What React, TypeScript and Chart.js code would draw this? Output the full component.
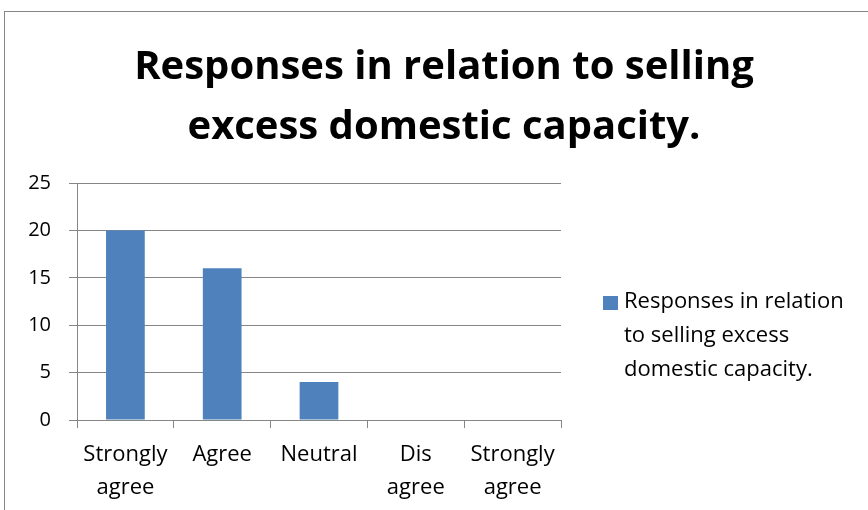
import React, { useEffect, useRef } from "react";
import { Chart, registerables } from "chart.js";

Chart.register(...registerables);

const categories: string[][] = [
  ["Strongly", "agree"],
  ["Agree"],
  ["Neutral"],
  ["Dis", "agree"],
  ["Strongly", "agree"],
];
const values: number[] = [20, 16, 4, 0, 0];
const seriesLabel = "Responses in relation to selling excess domestic capacity.";
const titleLines: string[] = ["Responses in relation to selling", "excess domestic capacity."];
const legendLines: string[] = ["Responses in relation", "to selling excess", "domestic capacity."];
const yTicks: number[] = [0, 5, 10, 15, 20, 25];

const FONT = "'Open Sans', sans-serif";
const BAR = "#4F81BD";
const GRID = "#868686";

export default function App() {
  const ref = useRef<HTMLCanvasElement | null>(null);

  useEffect(() => {
    if (!ref.current) return;
    const framePlugin = {
      id: "frame",
      beforeDraw(chart: any) {
        const ctx = chart.ctx;
        ctx.save();
        ctx.fillStyle = "#ffffff";
        ctx.fillRect(0, 0, chart.width, chart.height);
        ctx.strokeStyle = GRID;
        ctx.lineWidth = 1;
        ctx.strokeRect(4.5, 11.5, 3000, 3000);
        ctx.restore();
      },
    };
    const legendPlugin = {
      id: "customLegend",
      afterDraw(chart: any) {
        const ctx = chart.ctx;
        const ds = chart.data.datasets[0];
        ctx.save();
        ctx.fillStyle = ds.backgroundColor;
        ctx.fillRect(603, 296, 15, 14);
        ctx.fillStyle = "#000000";
        ctx.font = `22px ${FONT}`;
        ctx.textBaseline = "middle";
        ctx.textAlign = "left";
        legendLines.forEach((line, i) => {
          ctx.fillText(line, 624, 302 + i * 34);
        });
        ctx.restore();
      },
    };
    const chart = new Chart(ref.current, {
      type: "bar",
      data: {
        labels: categories,
        datasets: [
          {
            label: seriesLabel,
            data: values,
            backgroundColor: BAR,
            borderWidth: 0,
            barPercentage: 0.4,
            categoryPercentage: 1,
          },
        ],
      },
      options: {
        responsive: false,
        animation: false,
        layout: { padding: { left: 20, right: 0, top: 0, bottom: 0 } },
        plugins: {
          legend: { display: false },
          tooltip: { enabled: false },
          title: {
            display: true,
            text: titleLines,
            color: "#000000",
            font: { family: FONT, size: 40, weight: "bold", lineHeight: 1.5 },
            padding: { top: 38, bottom: 25 },
          },
        },
        scales: {
          x: {
            grid: {
              display: true,
              drawOnChartArea: false,
              drawTicks: true,
              tickLength: 8,
              color: GRID,
              offset: true,
            },
            border: { display: true, color: GRID },
            ticks: {
              color: "#000000",
              font: { family: FONT, size: 22, lineHeight: 1.5 },
              padding: 10,
              maxRotation: 0,
              autoSkip: false,
            },
            afterFit(s: any) {
              s.height = 90;
            },
          },
          y: {
            min: 0,
            max: 25,
            afterBuildTicks(s: any) {
              s.ticks = yTicks.map((v) => ({ value: v }));
            },
            grid: { color: GRID, tickLength: 8, drawTicks: true },
            border: { display: true, color: GRID },
            ticks: {
              color: "#000000",
              font: { family: FONT, size: 20 },
              padding: 18,
            },
            afterFit(s: any) {
              s.width = 57;
            },
          },
          y2: {
            position: "right",
            display: true,
            grid: { display: false },
            border: { display: false },
            ticks: { display: false },
            afterFit(s: any) {
              s.width = 307;
            },
          },
        },
      } as any,
      plugins: [framePlugin, legendPlugin],
    });
    return () => chart.destroy();
  }, []);

  return (
    <div style={{ position: "absolute", left: 0, top: 0, width: 868, height: 510 }}>
      <canvas ref={ref} width={868} height={510} style={{ display: "block" }} />
    </div>
  );
}
